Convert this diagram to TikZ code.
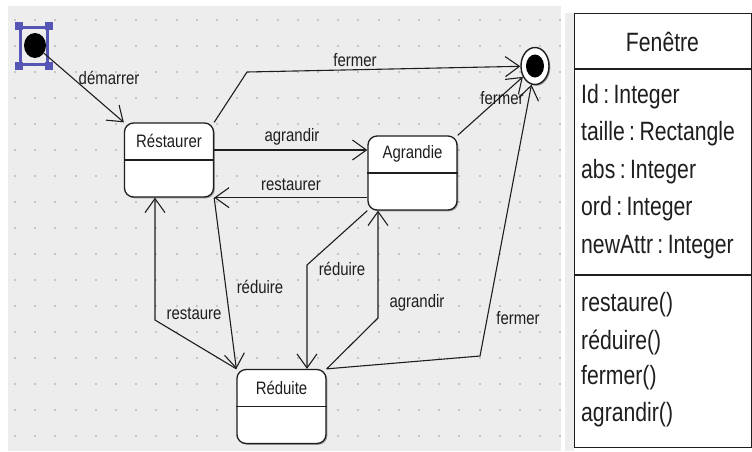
\documentclass[tikz,border=0pt]{standalone}
\usepackage{fontspec}
\setmainfont{Liberation Sans}
\newfontfamily\nfont[FakeStretch=0.83]{Liberation Sans}
\newfontfamily\cfont[FakeStretch=0.80]{Liberation Sans}
\usetikzlibrary{arrows.meta,calc,shapes.geometric,shadows}
\definecolor{panel}{HTML}{EDEDED}
\definecolor{dotc}{HTML}{C6C6C6}
\definecolor{selblue}{HTML}{5555B5}
\definecolor{ink}{HTML}{1E1E1E}
\begin{document}
\begin{tikzpicture}[x=1pt,y=-1pt,
  trans/.style={draw=ink, line width=1.1pt, -{Straight Barb[length=14pt,width=20pt]}},
  statebox/.style={draw=ink, fill=white, line width=1.3pt, rounded corners=9pt,
    minimum width=89pt, minimum height=74pt, inner sep=0pt,
    drop shadow={shadow xshift=1.3pt, shadow yshift=-1.3pt, fill=black, opacity=0.35}},
  divider/.style={draw=ink, line width=1.2pt},
  lbl/.style={font=\nfont\fontsize{18}{20}\selectfont, text=ink, inner sep=1pt},
  clsf/.style={font=\cfont\fontsize{26.5}{28}\selectfont, text=ink, inner sep=0pt, anchor=west},
  handle/.style={fill=selblue, minimum size=8pt, inner sep=0pt},
  finout/.style={ellipse, draw=ink, fill=white, line width=1.4pt, minimum width=28pt,
    minimum height=37pt, inner sep=0pt,
    drop shadow={shadow xshift=1.3pt, shadow yshift=-1.3pt, fill=black, opacity=0.35}},
  finin/.style={ellipse, fill=black, minimum width=18pt, minimum height=23pt, inner sep=0pt},
  initdot/.style={ellipse, fill=black, minimum width=22pt, minimum height=25pt, inner sep=0pt}
]
\useasboundingbox (0,0) rectangle (752,451);
\fill[white] (0,0) rectangle (752,451);
% left panel with dot grid
\fill[panel] (8,6) rectangle (561,451);
\foreach \i in {0,...,27}{\foreach \j in {0,...,16}{
  \fill[dotc] ({15+20.2*\i-1},{20+26*\j-1}) rectangle ++(2,2);}}
% right strip
\fill[panel] (565,13) rectangle (574,451);

% initial state with selection box
\node[draw=selblue, line width=3pt, minimum width=27pt, minimum height=37pt, inner sep=0pt] (sel) at (34,45.6) {};
\node[handle] (h1) at (sel.north west) {};
\node[handle] (h2) at (sel.north east) {};
\node[handle] (h3) at (sel.south west) {};
\node[handle] (h4) at (sel.south east) {};
\node[initdot] (init) at (35,45.5) {};

% final state
\node[finout] (fin) at (535,66) {};
\node[finin] (finc) at (fin) {};

% states
\node[statebox] (rest) at (169,160) {};
\node[statebox] (agr) at (412.5,173) {};
\node[statebox] (red) at (281.5,406.5) {};
\foreach \s/\t in {rest/Réstaurer, agr/Agrandie, red/Réduite}{
  \draw[divider] (\s.west) -- (\s.east);
  \node[lbl] (\s-name) at ($(\s.north)!0.5!(\s.center)$) {\t};
}

% bend points
\coordinate (c1) at (247,72);
\coordinate (c2) at (480,356);
\coordinate (c3) at (155,320);
\coordinate (c4) at (307,265);
\coordinate (c5) at (378,318);
\coordinate (a1) at ($(rest.east)+(0,-10)$);

% transitions
\draw[trans] (init) -- (rest.north west);
\draw[trans] (rest.north east) -- (c1) -- (fin);
\draw[trans] (a1) -- (a1 -| agr.west);
\draw[trans] (agr.west |- rest.south east) -- (rest.south east);
\draw[trans] (agr.north east) -- (fin);
\draw[trans] (red.north east) -- (c2) -- (fin);
\draw[trans] (red.north west) -- (c3) -- (c3 |- rest.south);
\draw[trans] (rest.south east) -- (red.north west);
\draw[trans] (agr.south west) -- (c4) -- (c4 |- red.north);
\draw[trans] (red.north east) -- (c5) -- (c5 |- agr.south);

% transition labels
\node[lbl] (l1) at (109,78) {démarrer};
\node[lbl] (l2) at (355,60) {fermer};
\node[lbl] (l3) at (292,137) {agrandir};
\node[lbl] (l4) at (291,185) {restaurer};
\node[lbl] (l5) at (502,98) {fermer};
\node[lbl] (l6) at (518,318) {fermer};
\node[lbl] (l7) at (194,314) {restaure};
\node[lbl] (l8) at (260,287) {réduire};
\node[lbl] (l9) at (342,269) {réduire};
\node[lbl] (l10) at (417,303) {agrandir};

% class box
\node[draw=ink, fill=white, line width=1.3pt, minimum width=177pt, minimum height=434pt,
  inner sep=0pt, anchor=north west] (cls) at (574,13) {};
\coordinate (d1) at (0,69);
\coordinate (d2) at (0,275);
\draw[divider] (cls.west |- d1) -- (cls.east |- d1);
\draw[divider] (cls.west |- d2) -- (cls.east |- d2);
\node[clsf, anchor=center] (cname) at (662.5,42) {Fenêtre};
\node[clsf] (at1) at (581,97) {Id\,:\,Integer};
\node[clsf] (at2) at (581,134) {taille\,:\,Rectangle};
\node[clsf] (at3) at (581,172) {abs\,:\,Integer};
\node[clsf] (at4) at (581,209) {ord\,:\,Integer};
\node[clsf] (at5) at (581,247) {newAttr\,:\,Integer};
\node[clsf] (m1) at (581,305) {restaure()};
\node[clsf] (m2) at (581,342) {réduire()};
\node[clsf] (m3) at (581,378) {fermer()};
\node[clsf] (m4) at (581,415) {agrandir()};
\end{tikzpicture}
\end{document}
